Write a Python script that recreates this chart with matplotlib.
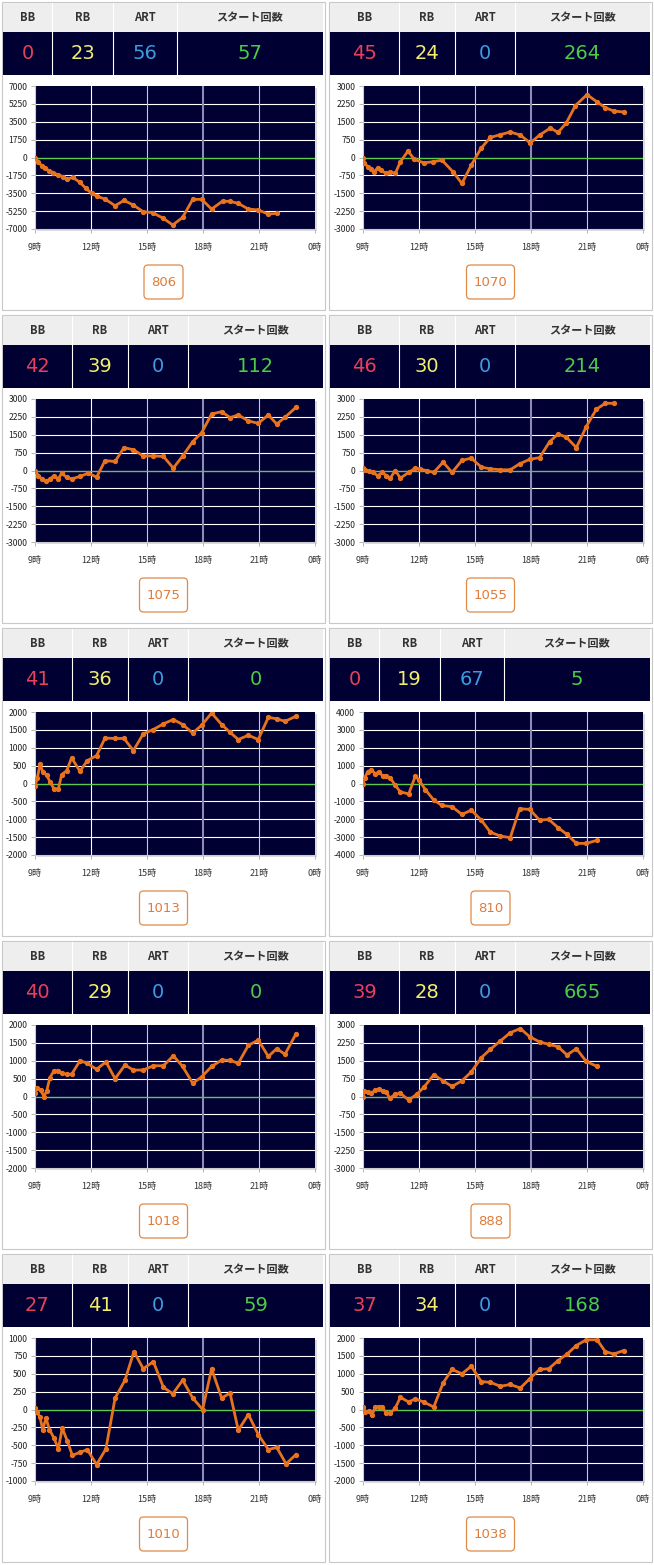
import matplotlib
matplotlib.use("Agg")
import matplotlib.pyplot as plt
import matplotlib.patches as patches
import numpy as np

plt.rcParams['font.family'] = ['Noto Sans CJK JP', 'DejaVu Sans']

W, H = 654, 1565

# counters shown in the header of each machine
bb = [0, 45, 42, 46, 41, 0, 40, 39, 27, 37]
rb = [23, 24, 39, 30, 36, 19, 29, 28, 41, 34]
art = [56, 0, 0, 0, 0, 67, 0, 0, 0, 0]
start = [57, 264, 112, 214, 0, 5, 0, 665, 59, 168]
machine_no = [806, 1070, 1075, 1055, 1013, 810, 1018, 888, 1010, 1038]
y_limit = [7000, 3000, 3000, 3000, 2000, 4000, 2000, 3000, 1000, 2000]

header_labels = ['BB', 'RB', 'ART', 'スタート回数']
x_ticks = [9, 12, 15, 18, 21, 24]
x_labels = ['9時', '12時', '15時', '18時', '21時', '0時']

# time (hour of day) and coin difference for every machine
hours_1 = [9.0, 9.18, 9.36, 9.54, 9.77, 9.98, 10.25, 10.52, 10.73, 11.02, 11.41, 11.73, 12.04, 12.3, 12.75, 13.29, 13.77,
           14.27, 14.8, 15.3, 15.88, 16.38, 16.91, 17.45, 17.93, 18.46, 19.05, 19.45, 19.89, 20.43, 20.96, 21.5, 21.95]
diff_1 = [0, -420, -810, -1070, -1300, -1470, -1730, -1890, -2120, -1950, -2440, -3030, -3520, -3780, -4070, -4720, -4200,
          -4660, -5310, -5400, -5960, -6610, -5860, -4100, -4100, -5050, -4270, -4300, -4490, -5050, -5140, -5540, -5470]

hours_2 = [9.0, 9.07, 9.25, 9.43, 9.61, 9.79, 9.96, 10.23, 10.46, 10.73, 11.0, 11.41, 11.75, 12.25, 12.75, 13.23, 13.82, 14.3,
           14.8, 15.32, 15.82, 16.36, 16.89, 17.43, 17.96, 18.46, 19.04, 19.45, 19.89, 20.38, 21.0, 21.54, 21.98, 22.43, 22.96]
diff_2 = [0, -210, -390, -500, -600, -420, -530, -670, -600, -670, -180, 270, -80, -220, -180, -110, -600, -1090,
          -320, 380, 840, 960, 1070, 940, 610, 940, 1240, 1050, 1450, 2180, 2640, 2330, 2090, 1950, 1910]

hours_3 = [9.0, 9.18, 9.36, 9.59, 9.8, 10.02, 10.25, 10.43, 10.7, 10.96, 11.41, 11.86, 12.3, 12.75, 13.29, 13.77, 14.27,
           14.8, 15.34, 15.88, 16.41, 16.91, 17.45, 17.93, 18.46, 19.0, 19.45, 19.89, 20.43, 20.96, 21.5, 21.95, 22.39, 22.98]
diff_3 = [0, -210, -360, -460, -350, -220, -350, -110, -290, -350, -250, -110, -280, 410, 380, 960, 870,
          610, 610, 590, 100, 610, 1210, 1590, 2370, 2470, 2220, 2330, 2080, 1980, 2330, 1950, 2230, 2650]

hours_4 = [9.0, 9.13, 9.3, 9.54, 9.79, 10.02, 10.25, 10.46, 10.73, 11.0, 11.45, 11.8, 12.07, 12.43, 12.79, 13.29, 13.77,
           14.3, 14.8, 15.34, 15.82, 16.36, 16.89, 17.39, 17.93, 18.46, 19.0, 19.45, 19.89, 20.43, 20.96, 21.5, 21.98, 22.43]
diff_4 = [100, 30, -40, -80, -220, -80, -210, -320, 0, -320, -80, 100, 60, -10, -80, 350, -80,
          420, 520, 140, 70, 30, 30, 280, 470, 540, 1210, 1530, 1400, 960, 1840, 2570, 2820, 2820]

hours_5 = [9.0, 9.13, 9.27, 9.41, 9.63, 9.8, 10.02, 10.25, 10.43, 10.7, 10.96, 11.41, 11.8, 12.3, 12.75, 13.29, 13.77, 14.27,
           14.8, 15.34, 15.88, 16.41, 16.91, 17.45, 17.93, 18.46, 19.0, 19.45, 19.89, 20.43, 20.96, 21.5, 21.95, 22.39, 22.98]
diff_5 = [-70, 160, 550, 330, 230, 50, -150, -150, 250, 360, 720, 340, 640, 780, 1270, 1260, 1260, 920,
          1390, 1510, 1670, 1790, 1650, 1410, 1630, 1970, 1650, 1430, 1230, 1350, 1230, 1850, 1810, 1740, 1880]

hours_6 = [9.0, 9.09, 9.25, 9.45, 9.66, 9.84, 10.07, 10.25, 10.46, 10.73, 11.0, 11.45, 11.8, 11.98, 12.34, 12.79, 13.23,
           13.77, 14.3, 14.8, 15.34, 15.82, 16.36, 16.89, 17.39, 17.93, 18.46, 18.95, 19.45, 19.93, 20.43, 20.96, 21.54]
diff_6 = [0, 320, 650, 780, 540, 650, 410, 410, 320, -110, -470, -580, 410, 220, -340, -930, -1230,
          -1300, -1730, -1490, -2050, -2720, -2940, -3030, -1410, -1450, -2050, -2010, -2470, -2850, -3350, -3350, -3180]

hours_7 = [9.0, 9.09, 9.3, 9.48, 9.63, 9.8, 10.02, 10.25, 10.46, 10.7, 10.96, 11.41, 11.8, 12.3, 12.8, 13.29, 13.82, 14.27,
           14.8, 15.34, 15.88, 16.41, 16.91, 17.45, 17.93, 18.46, 19.0, 19.45, 19.89, 20.43, 20.96, 21.5, 21.95, 22.39, 22.98]
diff_7 = [110, 230, 180, 0, 160, 530, 720, 720, 650, 620, 620, 1000, 930, 760, 970, 500, 880, 740,
          740, 860, 860, 1140, 840, 370, 550, 840, 1020, 1010, 930, 1430, 1580, 1120, 1340, 1180, 1750]

hours_8 = [9.0, 9.07, 9.25, 9.45, 9.66, 9.84, 10.07, 10.25, 10.43, 10.73, 11.0, 11.45, 11.89, 12.25, 12.79, 13.29,
           13.77, 14.3, 14.8, 15.34, 15.82, 16.36, 16.89, 17.43, 17.93, 18.46, 18.95, 19.45, 19.93, 20.43, 20.96, 21.54]
diff_8 = [0, 240, 170, 140, 270, 310, 240, 200, -80, 100, 140, -150, 100, 380, 910, 660,
          420, 660, 1030, 1630, 1980, 2330, 2680, 2850, 2510, 2290, 2190, 2090, 1740, 2010, 1470, 1260]

hours_9 = [9.0, 9.09, 9.27, 9.41, 9.59, 9.77, 10.02, 10.25, 10.46, 10.73, 11.0, 11.41, 11.8, 12.3, 12.8, 13.29, 13.82, 14.3,
           14.8, 15.34, 15.88, 16.38, 16.91, 17.45, 17.98, 18.46, 19.0, 19.45, 19.89, 20.43, 20.96, 21.5, 21.95, 22.45, 22.98]
diff_9 = [20, -30, -110, -280, -120, -280, -400, -550, -260, -440, -640, -600, -560, -770, -550, 160, 410, 810,
          570, 670, 310, 220, 410, 160, 0, 570, 160, 230, -290, -70, -350, -560, -530, -760, -630]

hours_10 = [9.0, 9.13, 9.3, 9.48, 9.66, 9.84, 10.02, 10.25, 10.46, 10.73, 11.0, 11.45, 11.8, 12.25, 12.79, 13.29, 13.77, 14.3,
            14.8, 15.34, 15.82, 16.36, 16.89, 17.43, 17.93, 18.46, 18.95, 19.45, 19.93, 20.43, 20.96, 21.54, 21.98, 22.43, 22.96]
diff_10 = [70, -70, -50, -150, 70, 80, 70, -100, -100, 40, 340, 210, 300, 210, 70, 740, 1120, 1000,
           1210, 780, 760, 650, 700, 600, 860, 1120, 1140, 1370, 1550, 1790, 1950, 1950, 1620, 1550, 1650]

hours = [hours_1, hours_2, hours_3, hours_4, hours_5, hours_6, hours_7, hours_8, hours_9, hours_10]
diffs = [diff_1, diff_2, diff_3, diff_4, diff_5, diff_6, diff_7, diff_8, diff_9, diff_10]

value_colors = ['#e8405a', '#f2ee6a', '#3d9be0', '#4ccc44']
navy = '#000033'
orange = '#e8731e'

fig = plt.figure(figsize=(W / 100, H / 100), dpi=100)
bg = fig.add_axes([0, 0, 1, 1])
bg.set_xlim(0, W)
bg.set_ylim(H, 0)
bg.axis('off')


def fig_box(x0, y0, x1, y1):
    return [x0 / W, 1 - y1 / H, (x1 - x0) / W, (y1 - y0) / H]


for i in range(10):
    ox = (i % 2) * 327
    oy = (i // 2) * 313

    # panel frame and header table
    bg.add_patch(patches.Rectangle((ox + 2, oy + 2), 323, 308, fill=False, ec='#c8c8c8', lw=0.8))
    bg.add_patch(patches.Rectangle((ox + 3, oy + 3), 320, 29, fc='#eeeeee', ec='none'))
    bg.add_patch(patches.Rectangle((ox + 3, oy + 32), 320, 43, fc=navy, ec='none'))
    if art[i] > 0:
        seps = [3, 52, 113, 177, 323]
    else:
        seps = [3, 72, 128, 188, 323]
    for s in seps[1:-1]:
        bg.plot([ox + s, ox + s], [oy + 3, oy + 75], color='white', lw=0.8)
    values = [bb[i], rb[i], art[i], start[i]]
    for k in range(4):
        cx = ox + (seps[k] + seps[k + 1]) / 2
        bg.text(cx, oy + 17.5, header_labels[k], ha='center', va='center', fontsize=8,
                fontweight='bold', color='#333333')
        bg.text(cx, oy + 53.5, str(values[k]), ha='center', va='center', fontsize=14,
                color=value_colors[k], family=['DejaVu Sans'])

    # plot area
    px0 = ox + 35 + (i % 2)
    px1 = px0 + 280
    py0, py1 = oy + 86, oy + 229
    bg.add_patch(patches.Rectangle((px0 + 2, py0 + 2), 280, 143, fc='#dcdcdc', ec='none'))
    ax = fig.add_axes(fig_box(px0, py0, px1, py1))
    ax.set_facecolor(navy)
    ym = y_limit[i]
    yt = np.linspace(-ym, ym, 9)
    ax.set_xlim(9, 24)
    ax.set_ylim(-ym, ym)
    for y in yt[1:-1]:
        ax.axhline(y, color='white', lw=0.8, zorder=1)
    for x, c, w in zip([12, 15, 18, 21], ['white', '#c8c8e6', '#8c8cb4', '#c8c8e6'], [0.8, 0.8, 1.5, 0.8]):
        ax.axvline(x, color=c, lw=w, zorder=1)
    ax.axhline(0, color='#5fc94a', lw=0.9, zorder=2)
    ax.plot(hours[i], diffs[i], color=orange, lw=2.0, marker='o', ms=2.8, zorder=3)
    ax.set_yticks(yt)
    ax.set_yticklabels(['%d' % v for v in yt])
    ax.set_xticks(x_ticks)
    ax.set_xticklabels(x_labels)
    ax.tick_params(axis='y', length=3, width=0.6, color='#aaaaaa', pad=2.5, labelsize=6.2, labelcolor='#222222')
    ax.tick_params(axis='x', length=3, width=0.6, color='#aaaaaa', pad=7, labelsize=6.5, labelcolor='#333333')
    for side in ['top', 'right']:
        ax.spines[side].set_visible(False)
    for side in ['left', 'bottom']:
        ax.spines[side].set_color('#cccccc')
        ax.spines[side].set_linewidth(0.8)

    # machine number button
    label = str(machine_no[i])
    bw = 39 if len(label) == 3 else 48
    bg.add_patch(patches.FancyBboxPatch((ox + 163.5 - bw / 2, oy + 265), bw, 34,
                                        boxstyle='round,pad=0,rounding_size=4',
                                        fc='white', ec='#e08a48', lw=0.9))
    bg.text(ox + 163.5, oy + 282.5, label, ha='center', va='center', fontsize=9.5,
            color='#e07b39', family=['DejaVu Sans'])

fig.savefig('out.png', dpi=100, facecolor='white')
